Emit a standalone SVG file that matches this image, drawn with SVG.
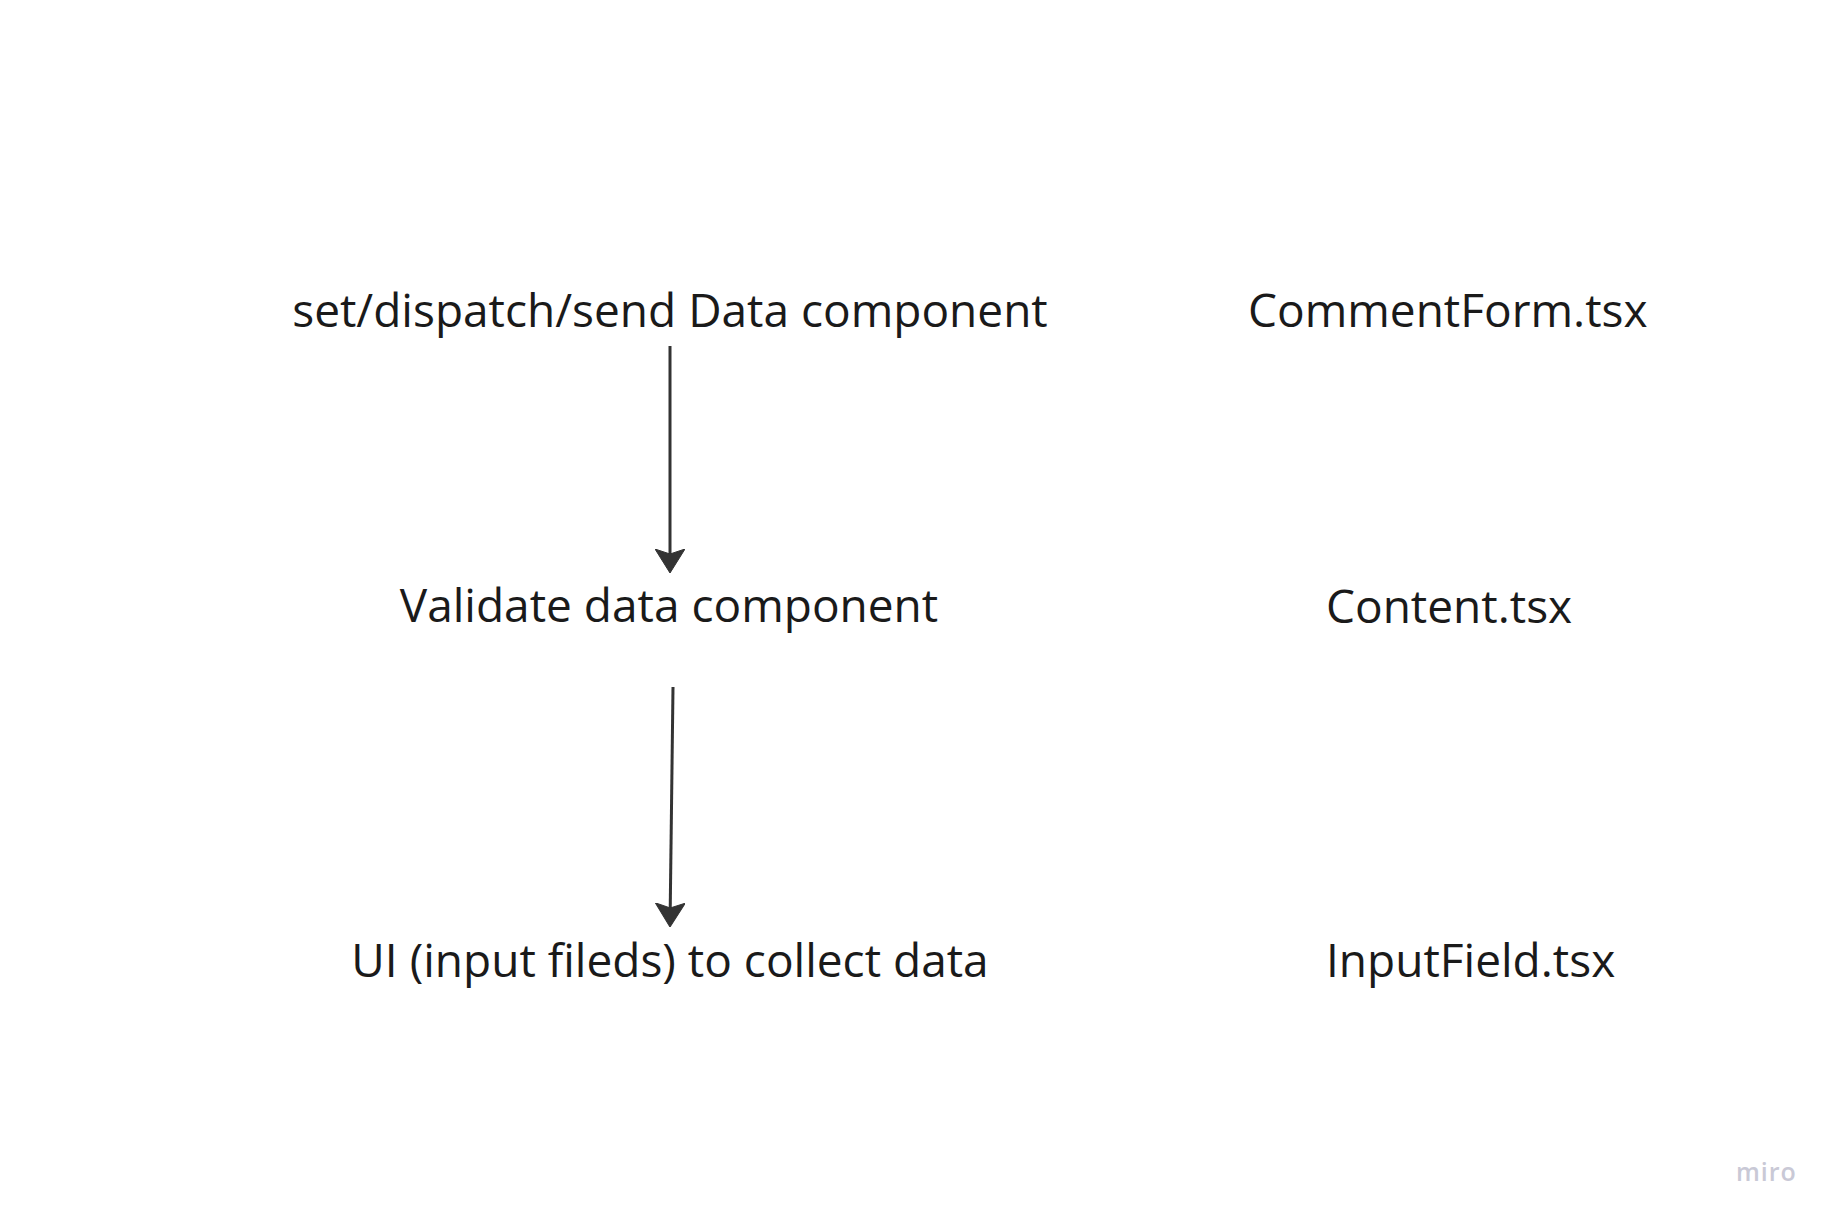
<svg xmlns="http://www.w3.org/2000/svg" width="1837" height="1224" viewBox="0 0 1837 1224">
  <style>
    .lbl { font-family: "Open Sans", "Noto Sans", "Liberation Sans", sans-serif; font-size: 46px; fill: #1a1a1a; }
    .mid { text-anchor: middle; }
    .conn { stroke: #333333; stroke-width: 3; fill: none; }
    .brand { font-family: "Open Sans", "Noto Sans", sans-serif; font-size: 25px; font-weight: 600; fill: #c9c9d6; letter-spacing: 1px; }
  </style>
  <defs>
    <marker id="arrow" viewBox="0 0 24 30" markerUnits="userSpaceOnUse" markerWidth="24" markerHeight="30" refX="16" refY="15" orient="auto">
      <path d="M0,0 L24,15 L0,30 L5,15 Z" fill="#333333" stroke="#333333" stroke-width="1" stroke-linejoin="round"/>
    </marker>
  </defs>
  <rect width="1837" height="1224" fill="#ffffff"/>

  <g id="connectors">
    <line class="conn" x1="670" y1="346" x2="670" y2="565" marker-end="url(#arrow)"/>
    <line class="conn" x1="673" y1="687" x2="670.1" y2="919" marker-end="url(#arrow)"/>
  </g>

  <g id="node-send">
    <text class="lbl mid" x="670" y="327">set/dispatch/send Data component</text>
  </g>
  <g id="node-validate">
    <text class="lbl mid" x="669" y="622">Validate data component</text>
  </g>
  <g id="node-ui">
    <text class="lbl mid" x="670" y="977">UI (input fileds) to collect data</text>
  </g>
  <g id="node-commentform">
    <text class="lbl" x="1248" y="327">CommentForm.tsx</text>
  </g>
  <g id="node-content">
    <text class="lbl" x="1326" y="623">Content.tsx</text>
  </g>
  <g id="node-inputfield">
    <text class="lbl" x="1326" y="977">InputField.tsx</text>
  </g>
  <g id="watermark">
    <text class="brand" x="1736" y="1181">miro</text>
  </g>
</svg>
